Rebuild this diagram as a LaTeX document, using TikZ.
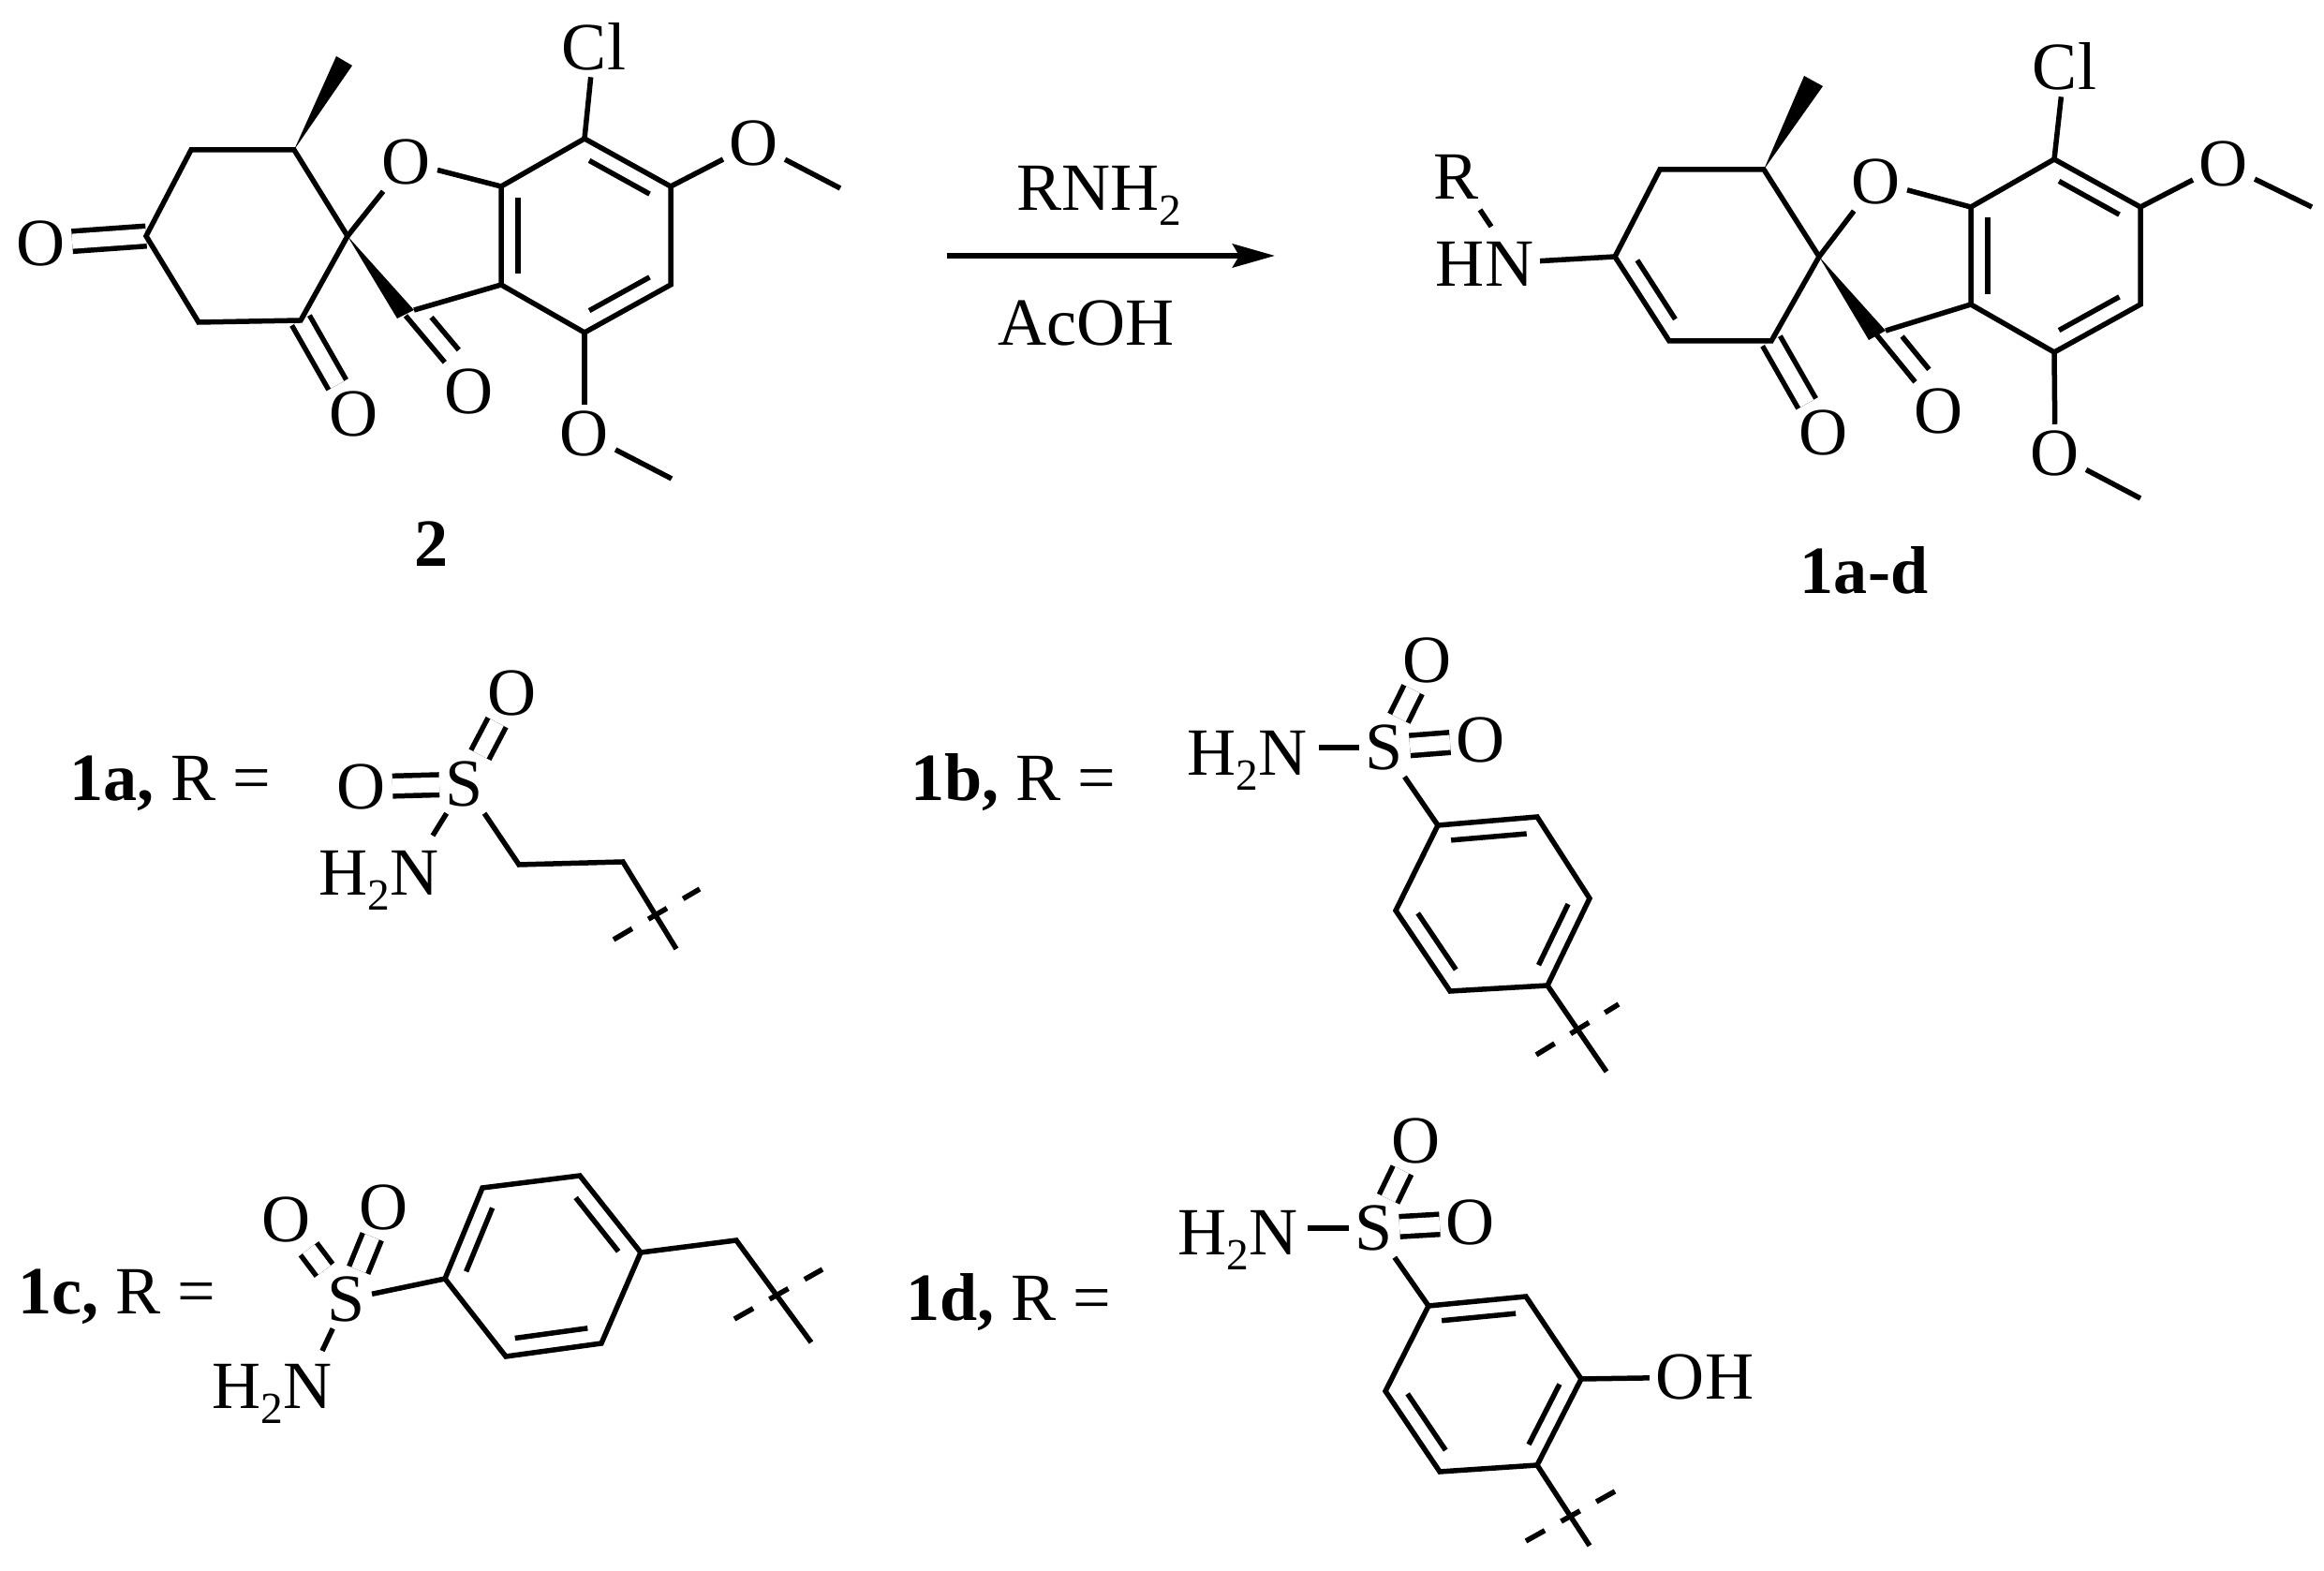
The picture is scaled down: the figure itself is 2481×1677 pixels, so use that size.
\documentclass[tikz,border=0pt]{standalone}
\usepackage{fontspec}
\setmainfont{Liberation Serif}
\usepackage{tikz}
\usetikzlibrary{calc,arrows.meta}

\newcommand{\subtwo}{\raisebox{-.22em}{\fontsize{13.5}{15}\selectfont 2}}
% inner line of a double bond: ends, start and stop fractions, offset
\newcommand{\innerbond}[5]{\draw[bond] ($(#1)!#3!(#2)!#5!90:(#2)$) -- ($(#1)!#4!(#2)!#5!90:(#2)$);}

\tikzset{
    bond/.style={line width=0.055cm},
    dblbond/.style={line width=0.055cm, double, double distance=0.16cm},
    cutline/.style={line width=0.055cm, dash pattern=on 0.23cm off 0.2cm},
    atom/.style={font=\fontsize{20.5}{24}\selectfont, inner sep=0.07cm, outer sep=0pt},
    amine/.style={font=\fontsize{20.5}{24}\selectfont, inner sep=0pt, anchor=base west},
    rlabel/.style={font=\fontsize{20.5}{24}\selectfont, inner sep=0pt, anchor=base west},
    cmpd/.style={font=\fontsize{20.5}{24}\selectfont\bfseries, inner sep=0pt}
}

\begin{document}
\begin{tikzpicture}[x=0.01cm, y=-0.01cm]
    \useasboundingbox (0,0) rectangle (2481,1677);

    % Compound 2: atoms
    \coordinate (a6) at (314,160);
    \coordinate (a5) at (204,160);
    \coordinate (a4) at (156,252);
    \coordinate (a3) at (212,344);
    \coordinate (a2) at (321,342);
    \coordinate (aspiro) at (371,252);
    \coordinate (acarb) at (433,337);
    \coordinate (a7a) at (535,199);
    \coordinate (a3a) at (535,304);
    \coordinate (a7) at (624,148);
    \coordinate (a6r) at (716,199);
    \coordinate (a5r) at (716,304);
    \coordinate (a4r) at (624,355);
    \coordinate (amea) at (359,60);
    \coordinate (ameb) at (376,70);
    \coordinate (awa) at (442,331);
    \coordinate (awb) at (424,340);
    \coordinate (ame1) at (897,201);
    \coordinate (ame2) at (717,511);
    \node[atom] (ao1) at (434,173) {O};
    \node[atom] (aol) at (44,260) {O};
    \node[atom] (ao2) at (378,442) {O};
    \node[atom] (ao3) at (501,418) {O};
    \node[atom] (acl) at (634,50) {Cl};
    \node[atom] (aom1) at (805,153) {O};
    \node[atom] (aom2) at (624,463) {O};
    \node[cmpd] (alabel) at (461,581) {2};

    % Compound 2: bonds
    \draw[dblbond] (a4) -- (aol);
    \draw[dblbond] (a2) -- (ao2);
    \draw[bond] (a6) -- (a5) -- (a4) -- (a3) -- (a2) -- (aspiro) -- cycle;
    \fill (a6) -- (amea) -- (ameb) -- cycle;
    \fill (aspiro) -- (awa) -- (awb) -- cycle;
    \draw[bond] (aspiro) -- (ao1);
    \draw[bond] (ao1) -- (a7a);
    \draw[bond] (acarb) -- (ao3);
    \innerbond{acarb}{ao3}{0.18}{0.61}{0.2cm}
    \draw[bond] (awa) -- (a3a);
    \draw[bond] (a7a) -- (a7) -- (a6r) -- (a5r) -- (a4r) -- (a3a) -- cycle;
    \innerbond{a7a}{a3a}{0.11}{0.89}{0.18cm}
    \innerbond{a7}{a6r}{0.15}{0.85}{-0.18cm}
    \innerbond{a5r}{a4r}{0.15}{0.85}{-0.18cm}
    \draw[bond] (a7) -- (acl);
    \draw[bond] (a6r) -- (aom1);
    \draw[bond] (aom1) -- (ame1);
    \draw[bond] (a4r) -- (aom2);
    \draw[bond] (aom2) -- (ame2);

    % Reaction arrow
    \coordinate (arrowa) at (1011,273);
    \coordinate (arrowb) at (1361,273);
    \node[rlabel] (reagent) at (1085,225) {RNH\subtwo};
    \node[rlabel] (acid) at (1065,369) {AcOH};
    \draw[line width=0.06cm, -{Stealth[length=0.45cm, width=0.25cm, inset=0.07cm]}] (arrowa) -- (arrowb);

    % Compound 1a-d: atoms
    \coordinate (b6) at (1883,181);
    \coordinate (b5) at (1772,181);
    \coordinate (b4) at (1724,274);
    \coordinate (b3) at (1782,364);
    \coordinate (b2) at (1891,364);
    \coordinate (bspiro) at (1942,274);
    \coordinate (bcarb) at (2003,357);
    \coordinate (b7a) at (2104,221);
    \coordinate (b3a) at (2104,325);
    \coordinate (b7) at (2193,170);
    \coordinate (b6r) at (2285,221);
    \coordinate (b5r) at (2285,325);
    \coordinate (b4r) at (2193,376);
    \coordinate (bmea) at (1926,81);
    \coordinate (bmeb) at (1946,92);
    \coordinate (bwa) at (2013,353);
    \coordinate (bwb) at (1995,363);
    \coordinate (bme1) at (2468,221);
    \coordinate (bme2) at (2285,532);
    \coordinate (brend) at (1580,224);
    \coordinate (bhnend) at (1592,242);
    \node[atom] (bo1) at (2003,194) {O};
    \node[atom] (bo2) at (1947,462) {O};
    \node[atom] (bo3) at (2070,439) {O};
    \node[atom] (bcl) at (2204,71) {Cl};
    \node[atom] (bom1) at (2374,175) {O};
    \node[atom] (bom2) at (2194,484) {O};
    \node[atom] (bhn) at (1585,282) {HN};
    \node[atom] (br) at (1555,189) {R};
    \node[cmpd] (blabel) at (1990,609) {1a-d};

    % Compound 1a-d: bonds
    \draw[dblbond] (b2) -- (bo2);
    \draw[bond] (b6) -- (b5) -- (b4) -- (b3) -- (b2) -- (bspiro) -- cycle;
    \innerbond{b4}{b3}{0.15}{0.85}{0.18cm}
    \fill (b6) -- (bmea) -- (bmeb) -- cycle;
    \fill (bspiro) -- (bwa) -- (bwb) -- cycle;
    \draw[bond] (bspiro) -- (bo1);
    \draw[bond] (bo1) -- (b7a);
    \draw[bond] (bcarb) -- (bo3);
    \innerbond{bcarb}{bo3}{0.18}{0.61}{0.2cm}
    \draw[bond] (bwa) -- (b3a);
    \draw[bond] (b7a) -- (b7) -- (b6r) -- (b5r) -- (b4r) -- (b3a) -- cycle;
    \innerbond{b7a}{b3a}{0.11}{0.89}{0.18cm}
    \innerbond{b7}{b6r}{0.15}{0.85}{-0.18cm}
    \innerbond{b5r}{b4r}{0.15}{0.85}{-0.18cm}
    \draw[bond] (b7) -- (bcl);
    \draw[bond] (b6r) -- (bom1);
    \draw[bond] (bom1) -- (bme1);
    \draw[bond] (b4r) -- (bom2);
    \draw[bond] (bom2) -- (bme2);
    \draw[bond] (b4) -- (bhn);
    \draw[bond] (brend) -- (bhnend);

    % 1a
    \node[rlabel] (labela) at (74,855) {\textbf{1a,} R =};
    \node[atom] (sa) at (496,837) {S};
    \node[atom] (oal) at (386,840) {O};
    \node[atom] (oat) at (547,740) {O};
    \node[amine] (na) at (340,956) {H\subtwo N};
    \coordinate (naend) at (462,892);
    \coordinate (ca1) at (554,923);
    \coordinate (ca2) at (665,920);
    \coordinate (caend) at (722,1013);
    \coordinate (cuta1) at (655,1003);
    \coordinate (cuta2) at (747,949);
    \draw[dblbond] (sa) -- (oal);
    \draw[dblbond] (sa) -- (oat);
    \draw[bond] (sa) -- (naend);
    \draw[bond] (sa) -- (ca1) -- (ca2) -- (caend);
    \draw[cutline] (cuta1) -- (cuta2);

    % 1b
    \node[rlabel] (labelb) at (972,855) {\textbf{1b,} R =};
    \node[atom] (sb) at (1478,798) {S};
    \node[atom] (obt) at (1524,705) {O};
    \node[atom] (obr) at (1581,790) {O};
    \node[amine] (nb) at (1267,828) {H\subtwo N};
    \coordinate (nbend) at (1408,798);
    \coordinate (rb1) at (1535,881);
    \coordinate (rb2) at (1641,872);
    \coordinate (rb3) at (1697,959);
    \coordinate (rb4) at (1652,1052);
    \coordinate (rb5) at (1548,1058);
    \coordinate (rb6) at (1490,972);
    \coordinate (rbend) at (1715,1144);
    \coordinate (cutb1) at (1640,1126);
    \coordinate (cutb2) at (1728,1072);
    \draw[dblbond] (sb) -- (obt);
    \draw[dblbond] (sb) -- (obr);
    \draw[bond] (sb) -- (nbend);
    \draw[bond] (sb) -- (rb1);
    \draw[bond] (rb1) -- (rb2) -- (rb3) -- (rb4) -- (rb5) -- (rb6) -- cycle;
    \innerbond{rb1}{rb2}{0.12}{0.88}{-0.17cm}
    \innerbond{rb3}{rb4}{0.15}{0.85}{-0.18cm}
    \innerbond{rb5}{rb6}{0.15}{0.85}{-0.18cm}
    \draw[bond] (rb4) -- (rbend);
    \draw[cutline] (cutb1) -- (cutb2);

    % 1c
    \node[rlabel] (labelc) at (19,1403) {\textbf{1c,} R =};
    \node[atom] (sc) at (370,1387) {S};
    \node[atom] (oca) at (306,1302) {O};
    \node[atom] (ocb) at (410,1289) {O};
    \node[amine] (nc) at (226,1504) {H\subtwo N};
    \coordinate (ncend) at (344,1442);
    \coordinate (rc1) at (475,1365);
    \coordinate (rc2) at (515,1268);
    \coordinate (rc3) at (619,1255);
    \coordinate (rc4) at (684,1337);
    \coordinate (rc5) at (642,1434);
    \coordinate (rc6) at (540,1448);
    \coordinate (cc1) at (786,1324);
    \coordinate (ccend) at (866,1433);
    \coordinate (cutc1) at (784,1408);
    \coordinate (cutc2) at (878,1355);
    \draw[dblbond] (sc) -- (oca);
    \draw[dblbond] (sc) -- (ocb);
    \draw[bond] (sc) -- (ncend);
    \draw[bond] (sc) -- (rc1);
    \draw[bond] (rc1) -- (rc2) -- (rc3) -- (rc4) -- (rc5) -- (rc6) -- cycle;
    \innerbond{rc1}{rc2}{0.15}{0.85}{-0.18cm}
    \innerbond{rc3}{rc4}{0.15}{0.85}{-0.18cm}
    \innerbond{rc5}{rc6}{0.12}{0.88}{-0.18cm}
    \draw[bond] (rc4) -- (cc1) -- (ccend);
    \draw[cutline] (cutc1) -- (cutc2);

    % 1d
    \node[rlabel] (labeld) at (967,1410) {\textbf{1d,} R =};
    \node[atom] (sd) at (1467,1311) {S};
    \node[atom] (odt) at (1512,1218) {O};
    \node[atom] (odr) at (1570,1305) {O};
    \node[amine] (nd) at (1257,1340) {H\subtwo N};
    \node[atom] (oh) at (1820,1470) {OH};
    \coordinate (ndend) at (1396,1311);
    \coordinate (rd1) at (1525,1394);
    \coordinate (rd2) at (1629,1384);
    \coordinate (rd3) at (1688,1472);
    \coordinate (rd4) at (1641,1564);
    \coordinate (rd5) at (1537,1571);
    \coordinate (rd6) at (1479,1485);
    \coordinate (rdend) at (1697,1650);
    \coordinate (cutd1) at (1629,1645);
    \coordinate (cutd2) at (1724,1592);
    \draw[dblbond] (sd) -- (odt);
    \draw[dblbond] (sd) -- (odr);
    \draw[bond] (sd) -- (ndend);
    \draw[bond] (sd) -- (rd1);
    \draw[bond] (rd1) -- (rd2) -- (rd3) -- (rd4) -- (rd5) -- (rd6) -- cycle;
    \innerbond{rd1}{rd2}{0.12}{0.88}{-0.17cm}
    \innerbond{rd3}{rd4}{0.15}{0.85}{-0.18cm}
    \innerbond{rd5}{rd6}{0.15}{0.85}{-0.18cm}
    \draw[bond] (rd3) -- (oh);
    \draw[bond] (rd4) -- (rdend);
    \draw[cutline] (cutd1) -- (cutd2);

\end{tikzpicture}
\end{document}
